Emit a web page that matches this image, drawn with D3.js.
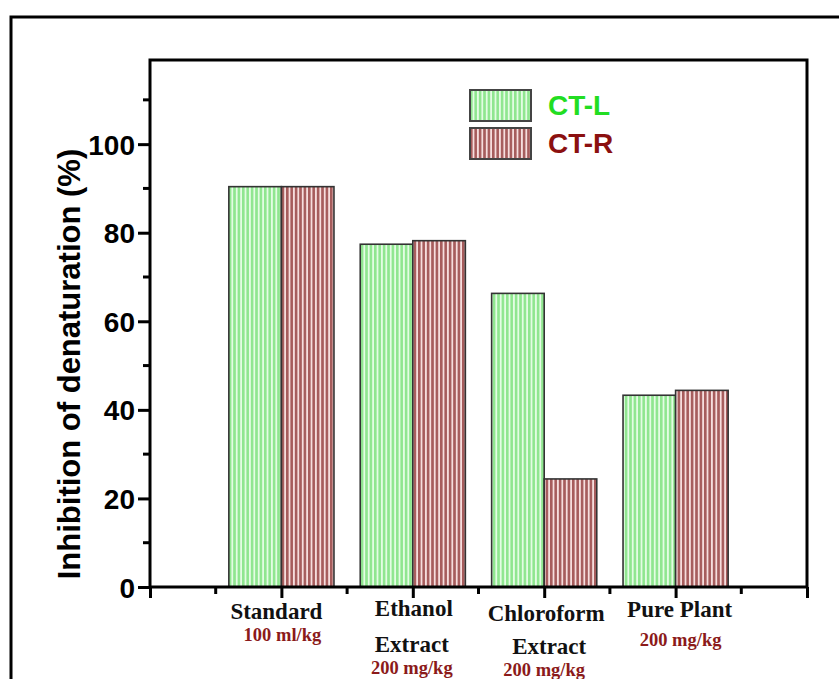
<!DOCTYPE html>
<meta charset="utf-8">
<style>
body { margin: 0; background: #fff; }
.tick-lab { font: bold 28px "Liberation Sans", Arial, sans-serif; }
.cat { font: bold 23px "Liberation Serif", "Times New Roman", serif; fill: #111; }
.dose { font: bold 18.5px "Liberation Serif", "Times New Roman", serif; fill: #8b1a1a; }
</style>
<svg width="839" height="679"></svg>
<script src="https://cdn.jsdelivr.net/npm/d3@7"></script>
<script>

// data
var categories = ["Standard", "Ethanol Extract", "Chloroform Extract", "Pure Plant"];
var catLines = [["Standard"], ["Ethanol", "Extract"], ["Chloroform", "Extract"], ["Pure Plant"]];
var doses = ["100 ml/kg", "200 mg/kg", "200 mg/kg", "200 mg/kg"];
var ctL = [90.4, 77.4, 66.3, 43.3];
var ctR = [90.4, 78.2, 24.4, 44.4];
var seriesNames = ["CT-L", "CT-R"];
var yMajor = [0, 20, 40, 60, 80, 100];
var yMinor = [10, 30, 50, 70, 90, 110];

var svg = d3.select("svg"),
    margin = {left: 150, top: 60, right: 32, bottom: 92},
    W = 839, H = 679;

// outer frame (runs off the right and bottom edges)
svg.append("rect")
    .attr("x", 11).attr("y", 17)
    .attr("width", 900).attr("height", 900)
    .attr("fill", "none").attr("stroke", "#000").attr("stroke-width", 3);

var x = d3.scaleLinear().domain([0, 5]).range([margin.left, W - margin.right]);
var y = d3.scaleLinear().domain([0, 119]).range([H - margin.bottom, margin.top]);

var defs = svg.append("defs");
function stripes(id, base, light) {
  var p = defs.append("pattern")
      .attr("id", id)
      .attr("patternUnits", "userSpaceOnUse")
      .attr("width", 4.4).attr("height", 10);
  p.append("rect").attr("width", 4.4).attr("height", 10).attr("fill", light);
  p.append("rect").attr("width", 2.6).attr("height", 10).attr("fill", base);
}
stripes("pG", "#8fe68f", "#e4fce4");
stripes("pR", "#a65c5c", "#f6dede");

var bw = 0.4;
var groups = [
  {vals: ctL, fill: "url(#pG)", off: -bw},
  {vals: ctR, fill: "url(#pR)", off: 0}
];
groups.forEach(function(g) {
  svg.append("g").selectAll("rect")
    .data(g.vals)
    .join("rect")
      .attr("x", function(d, i) { return x(i + 1 + g.off); })
      .attr("width", x(bw) - x(0))
      .attr("y", function(d) { return y(d); })
      .attr("height", function(d) { return y(0) - y(d); })
      .attr("fill", g.fill)
      .attr("stroke", "#333")
      .attr("stroke-width", 1.6);
});

// frame of the plot
var x0 = x(0), x1 = x(5), y0 = y(0), y1 = y(119);
svg.append("path")
    .attr("d", "M" + x0 + "," + y0 + "V" + y1 + "H" + x1 + "V" + y0 + "Z")
    .attr("fill", "none").attr("stroke", "#000").attr("stroke-width", 3);

// y axis
var yAxis = svg.append("g").attr("transform", "translate(" + x0 + ",0)");
yAxis.call(d3.axisLeft(y).tickValues(yMajor).tickSize(12).tickPadding(3))
yAxis.select(".domain").remove();
yAxis.selectAll(".tick line").attr("stroke-width", 3);
yAxis.selectAll(".tick text").attr("class", "tick-lab").attr("fill", "#000").attr("dy", "0.36em");
yAxis.append("g").selectAll("line")
  .data(yMinor)
  .join("line")
    .attr("x1", -7).attr("x2", 0)
    .attr("y1", function(d) { return y(d); })
    .attr("y2", function(d) { return y(d); })
    .attr("stroke", "#000").attr("stroke-width", 3);

// x axis ticks (down)
var xMajor = [0, 1, 2, 3, 4, 5], xMinor = [0.5, 1.5, 2.5, 3.5, 4.5];
var xAxis = svg.append("g").attr("transform", "translate(0," + y0 + ")");
xAxis.call(d3.axisBottom(x).tickValues(xMajor).tickSize(11).tickFormat(""));
xAxis.select(".domain").remove();
xAxis.selectAll(".tick line").attr("stroke-width", 3);
xAxis.append("g").selectAll("line")
  .data(xMinor)
  .join("line")
    .attr("x1", function(d) { return x(d); })
    .attr("x2", function(d) { return x(d); })
    .attr("y1", 0).attr("y2", 7)
    .attr("stroke", "#000").attr("stroke-width", 3);

// category labels
var lineY = [[619], [616, 652], [621, 654], [617]];
var lineDx = [[-5], [1, -1], [2, 5], [4]];
var doseY = [641, 674, 676, 646];
var doseDx = [1, -1, 0, 5];
categories.forEach(function(c, i) {
  catLines[i].forEach(function(t, j) {
    svg.append("text").attr("class", "cat")
      .attr("x", x(i + 1) + lineDx[i][j]).attr("y", lineY[i][j])
      .attr("text-anchor", "middle").text(t);
  });
  svg.append("text").attr("class", "dose")
    .attr("x", x(i + 1) + doseDx[i]).attr("y", doseY[i])
    .attr("text-anchor", "middle").text(doses[i]);
});

// y title
svg.append("text")
    .attr("transform", "translate(80,364) rotate(-90)")
    .attr("text-anchor", "middle")
    .style("font", "bold 31px 'Liberation Sans', Arial, sans-serif")
    .text("Inhibition of denaturation (%)");

// legend
var legColors = ["#22dd22", "#8b1010"];
var legFills = ["url(#pG)", "url(#pR)"];
var leg = svg.append("g").attr("transform", "translate(470,90)");
seriesNames.forEach(function(s, i) {
  leg.append("rect")
    .attr("x", 0).attr("y", i * 38)
    .attr("width", 61).attr("height", 31)
    .attr("fill", legFills[i]).attr("stroke", "#444").attr("stroke-width", 2);
  leg.append("text")
    .attr("x", 78).attr("y", i * 38 + 25)
    .style("font", "bold 28px 'Liberation Sans', Arial, sans-serif")
    .attr("fill", legColors[i])
    .text(s);
});

</script>
